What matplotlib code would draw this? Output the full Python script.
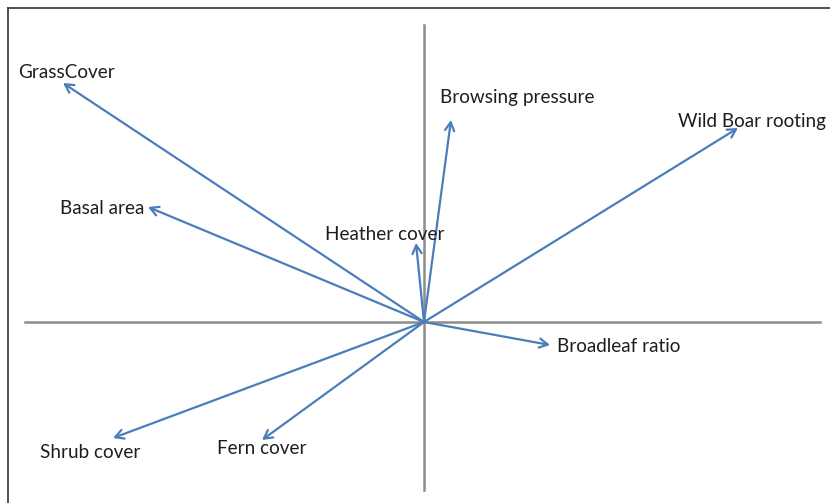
import matplotlib
matplotlib.use('Agg')
from matplotlib import pyplot as plt
from matplotlib.lines import Line2D

# vector end points (ordination loadings)
labels = ['GrassCover', 'Basal area', 'Heather cover', 'Browsing pressure',
          'Wild Boar rooting', 'Broadleaf ratio', 'Shrub cover', 'Fern cover']
xs = [-3.61, -2.76, -0.08, 0.27, 3.14, 1.26, -3.11, -1.62]
ys = [2.39, 1.15, 0.79, 2.02, 1.94, -0.23, -1.16, -1.18]

# label anchors relative to arrow tip (offset in pixels)
label_pos = {
    'GrassCover': (-45, 10),
    'Basal area': (-88, -2),
    'Heather cover': (-91, 9),
    'Browsing pressure': (-11, 23),
    'Wild Boar rooting': (-60, 6),
    'Broadleaf ratio': (7, -2),
    'Shrub cover': (-73, -15),
    'Fern cover': (-45, -9),
}

plt.rcParams['font.family'] = ['Lato', 'DejaVu Sans']

fig = plt.figure(figsize=(8.3, 5.03), dpi=100)
ax = fig.add_axes([0, 0, 1, 1])
ax.set_xlim(-4.24, 4.06)
ax.set_ylim(-1.81, 3.22)
ax.axis('off')

# axes cross
ax.plot([-3.99, 3.96], [0, 0], color='#8c8c8c', lw=1.8, zorder=1)
ax.plot([0, 0], [-1.68, 2.97], color='#8c8c8c', lw=1.8, zorder=1)

for name, x, y in zip(labels, xs, ys):
    ax.annotate('', xy=(x, y), xytext=(0, 0),
                arrowprops=dict(arrowstyle='->,head_length=0.6,head_width=0.33',
                                color='#4a7ebb', lw=1.6, shrinkA=0, shrinkB=0),
                zorder=2)
    dx, dy = label_pos[name]
    ax.annotate(name, xy=(x, y), xytext=(dx * 0.72, dy * 0.72),
                textcoords='offset points', ha='left', va='center',
                fontsize=13.6, color='#1e1e1e', zorder=3)

# outer frame (top and left only visible)
fig.add_artist(Line2D([8 / 830, 1], [1 - 8 / 503, 1 - 8 / 503],
                      color='#333333', lw=1.2, transform=fig.transFigure))
fig.add_artist(Line2D([8 / 830, 8 / 830], [0, 1 - 8 / 503],
                      color='#333333', lw=1.2, transform=fig.transFigure))

fig.savefig('out.png', dpi=100)
